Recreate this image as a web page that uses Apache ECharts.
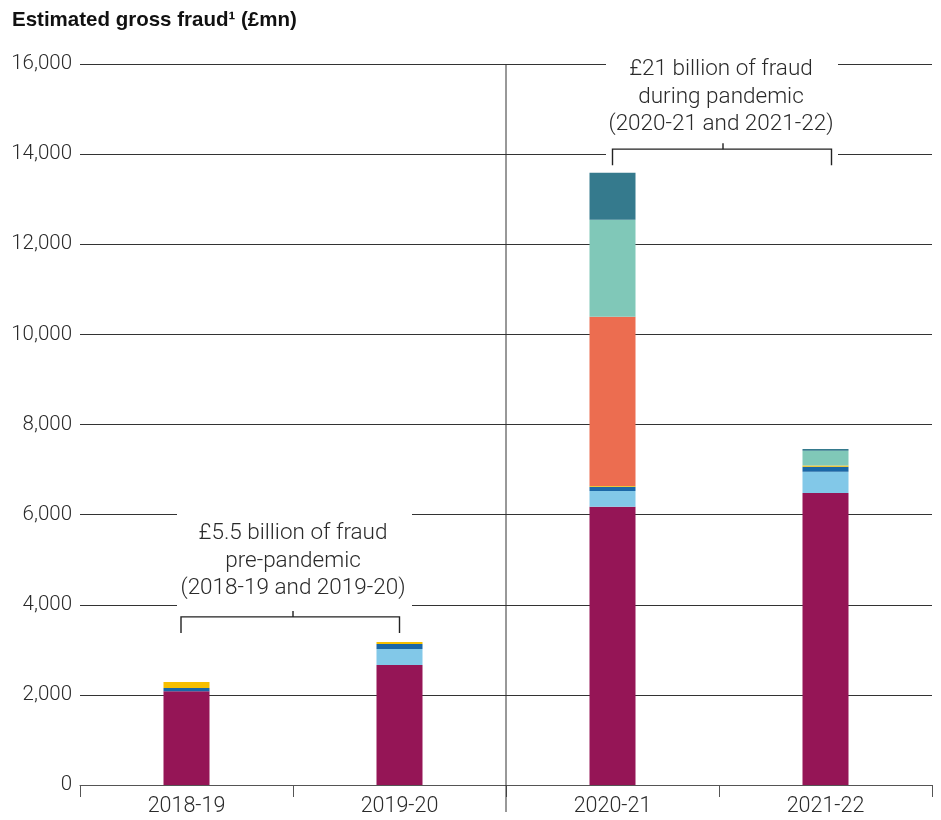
<!DOCTYPE html>
<html>
<head>
<meta charset="utf-8">
<script src="https://cdn.jsdelivr.net/npm/echarts@6/dist/echarts.min.js"></script>
<style>
  html, body { margin: 0; padding: 0; background: #fff; }
  #chart { width: 941px; height: 820px; }
</style>
</head>
<body>
<div id="chart"></div>
<script>
// Financial years shown on the x axis
const years = ['2018-19', '2019-20', '2020-21', '2021-22'];

// Stacked components of estimated gross fraud (£mn), bottom to top
const plumValues      = [2080, 2664, 6172, 6482];
const skyValues       = [0, 355, 355, 467];
const navyValues      = [73, 111, 89, 111];
const goldValues      = [134, 45, 22, 29];
const coralValues     = [0, 0, 3752, 0];
const mintValues      = [0, 0, 2153, 326];
const petrolValues    = [0, 0, 1044, 44];

// Y axis range and step
const yMin = 0;
const yMax = 16000;
const yStep = 2000;

// Period annotations
const preText = ['£5.5 billion of fraud', 'pre-pandemic', '(2018-19 and 2019-20)'];
const duringText = ['£21 billion of fraud', 'during pandemic', '(2020-21 and 2021-22)'];

const stackParts = [
  { name: 'plum', data: plumValues, color: '#951556' },
  { name: 'sky', data: skyValues, color: '#82C8E8' },
  { name: 'navy', data: navyValues, color: '#1B67A6' },
  { name: 'gold', data: goldValues, color: '#F7BF00' },
  { name: 'coral', data: coralValues, color: '#EC6D50' },
  { name: 'mint', data: mintValues, color: '#80C8B8' },
  { name: 'petrol', data: petrolValues, color: '#357A8D' }
];

const LABEL_FONT = 'Roboto, "Liberation Sans", sans-serif';
const INK = '#2a2a2a';

const chart = echarts.init(document.getElementById('chart'), null, { renderer: 'canvas' });

chart.setOption({
  animation: false,
  backgroundColor: '#fff',
  title: {
    text: 'Estimated gross fraud¹ (£mn)',
    left: 7,
    top: 5,
    textStyle: {
      fontFamily: '"Liberation Sans", Arial, sans-serif',
      fontWeight: 'bold',
      fontSize: 20.5,
      color: '#111'
    }
  },
  grid: { left: 80, right: 9, top: 64, bottom: 35, containLabel: false },
  xAxis: {
    type: 'category',
    data: years,
    boundaryGap: true,
    axisLine: { lineStyle: { color: '#555', width: 1 } },
    axisTick: { show: true, alignWithLabel: false, length: 12, lineStyle: { color: '#555' } },
    axisLabel: { color: INK, fontSize: 21.5, fontFamily: LABEL_FONT, fontWeight: 300, margin: 11 },
    splitLine: { show: false }
  },
  yAxis: {
    type: 'value',
    min: yMin,
    max: yMax,
    interval: yStep,
    axisLine: { show: false },
    axisTick: { show: false },
    axisLabel: {
      color: INK,
      fontSize: 20.5,
      fontFamily: LABEL_FONT,
      fontWeight: 300,
      margin: 8,
      formatter: v => v.toLocaleString('en-GB')
    },
    splitLine: { lineStyle: { color: '#333', width: 1 } }
  },
  series: stackParts.map(p => ({
    name: p.name,
    type: 'bar',
    stack: 'fraud',
    data: p.data,
    barWidth: 46,
    itemStyle: { color: p.color },
    emphasis: { disabled: true },
    z: 3
  }))
});

// Decorations placed from the axes' own scales
function px(cat) { return chart.convertToPixel({ xAxisIndex: 0 }, cat); }
function py(val) { return chart.convertToPixel({ yAxisIndex: 0 }, val); }

function bracket(x1, x2, xm, y, drop, rise) {
  return [
    { type: 'polyline', z: 20, shape: { points: [[x1, y + drop], [x1, y], [x2, y], [x2, y + drop]] },
      style: { stroke: '#222', lineWidth: 1.4, fill: null } },
    { type: 'line', z: 20, shape: { x1: xm, y1: y, x2: xm, y2: y - rise },
      style: { stroke: '#222', lineWidth: 1.4 } }
  ];
}

function note(lines, cx, cy) {
  return {
    type: 'text', z: 21, x: cx, y: cy,
    style: {
      text: lines.join('\n'),
      align: 'center', verticalAlign: 'middle',
      fontFamily: LABEL_FONT, fontWeight: 300, fontSize: 22.5, lineHeight: 27.5,
      fill: INK
    }
  };
}

const c0 = px(years[0]), c1 = px(years[1]), c2 = px(years[2]), c3 = px(years[3]);
const split01 = (c0 + c1) / 2;
const split12 = (c1 + c2) / 2;
const split23 = (c2 + c3) / 2;
const yTop = py(yMax), yZero = py(0);

const lowY = py(3730);
const highY = py(14110);

chart.setOption({
  graphic: [
    // divider between pre-pandemic and pandemic years
    { type: 'line', z: 15, shape: { x1: split12, y1: yTop, x2: split12, y2: yZero + 27 },
      style: { stroke: '#333', lineWidth: 1 } },
    // white panels that interrupt the gridlines behind the annotations
    { type: 'rect', z: 10, shape: { x: split01 - 116, y: lowY - 108, width: 235, height: 100 },
      style: { fill: '#fff' } },
    { type: 'rect', z: 10, shape: { x: split23 - 113, y: highY - 88, width: 232, height: 97 },
      style: { fill: '#fff' } },
    ...bracket(c0 - 5.5, c1, split01, lowY, 16, 6),
    ...bracket(c2, c3 + 6, split23 + 4, highY, 16, 6),
    note(preText, split01, lowY - 56),
    note(duringText, split23 + 2, highY - 52)
  ]
});
</script>
</body>
</html>
